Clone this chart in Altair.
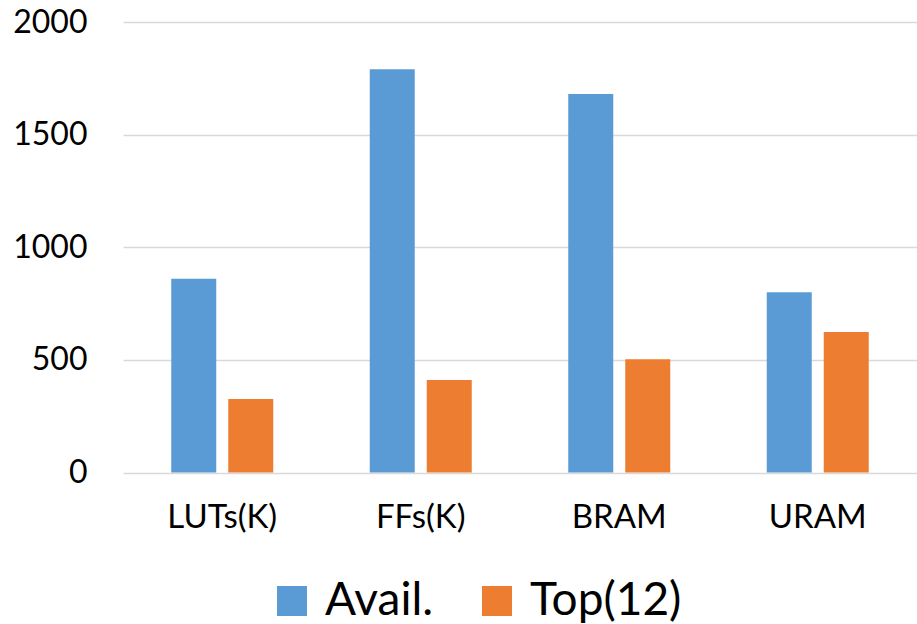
import altair as alt
import pandas as pd

# FPGA resources: available on the device vs. used by the top-12 design
categories = ["LUTs(K)", "FFs(K)", "BRAM", "URAM"]
series = ["Avail.", "Top(12)"]
avail = [860, 1790, 1680, 800]
top12 = [326, 411, 503, 624]
y_ticks = [0, 500, 1000, 1500, 2000]
colors = ["#5B9BD5", "#ED7D31"]

rows = []
for cat, a, t in zip(categories, avail, top12):
    rows.append({"resource": cat, "series": series[0], "value": a})
    rows.append({"resource": cat, "series": series[1], "value": t})
df = pd.DataFrame(rows)

FONT = "Lato"

chart = (
    alt.Chart(df)
    .mark_bar()
    .encode(
        x=alt.X(
            "resource:N",
            sort=categories,
            title=None,
            scale=alt.Scale(paddingInner=0, paddingOuter=0),
            axis=alt.Axis(
                labelAngle=0,
                ticks=False,
                domain=False,
                grid=False,
                labelPadding=29,
                labelFont=FONT,
                labelFontSize=33,
                labelColor="#000000",
            ),
        ),
        xOffset=alt.XOffset(
            "series:N",
            sort=series,
            scale=alt.Scale(paddingInner=0.2105, paddingOuter=0.8465),
        ),
        y=alt.Y(
            "value:Q",
            title=None,
            scale=alt.Scale(domain=[0, 2000], nice=False),
            axis=alt.Axis(
                values=y_ticks,
                format="d",
                ticks=False,
                domain=False,
                labelPadding=36,
                labelFont=FONT,
                labelFontSize=32,
                labelColor="#000000",
                gridColor="#D9D9D9",
                gridWidth=1.6,
            ),
        ),
        color=alt.Color(
            "series:N",
            sort=series,
            scale=alt.Scale(domain=series, range=colors),
            legend=alt.Legend(
                title=None,
                orient="none",
                direction="horizontal",
                legendX=146,
                legendY=556,
                padding=0,
                symbolType="square",
                symbolSize=900,
                symbolStrokeWidth=0,
                labelOffset=10,
                columnPadding=40,
                labelFont=FONT,
                labelFontSize=46,
                labelColor="#000000",
                labelLimit=300,
            ),
        ),
    )
    .properties(
        width=794,
        height=450.5,
        background="#FFFFFF",
        autosize=alt.AutoSizeParams(type="none"),
        padding={"left": 123, "top": 22, "right": 0, "bottom": 151.5},
    )
    .configure_view(strokeWidth=0, stroke="transparent")
)

chart.save("out.html", embed_options={"renderer": "svg", "actions": False})
